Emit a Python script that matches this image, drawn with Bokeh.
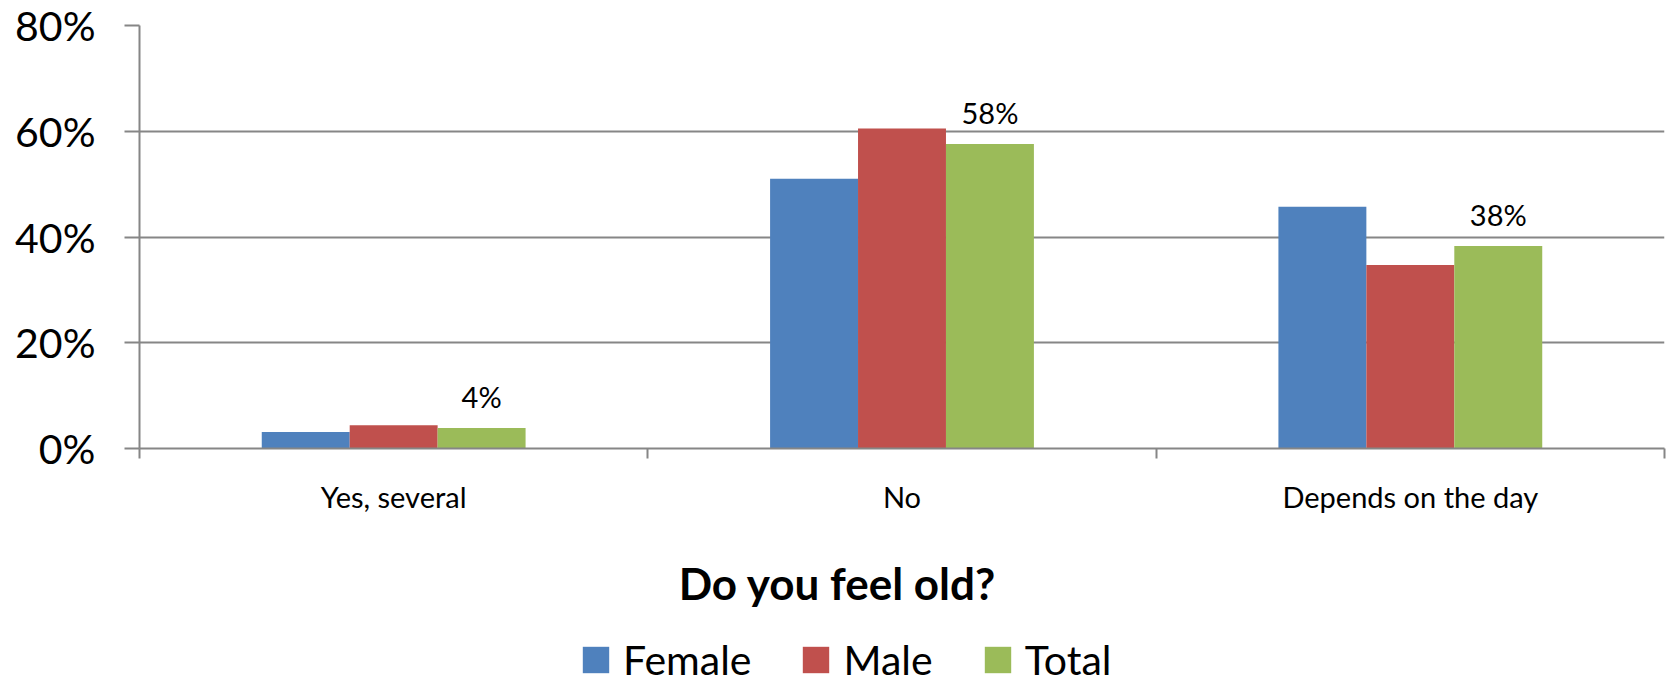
from bokeh.plotting import figure
from bokeh.layouts import column
from bokeh.models import (Range1d, FixedTicker, NumeralTickFormatter, ColumnDataSource,
                          Legend, LegendItem, Label)
from bokeh.core.properties import value
from bokeh.embed import file_html
from bokeh.resources import INLINE

# ---- data ----
categories = ["Yes, several", "No", "Depends on the day"]
female = [0.031, 0.510, 0.457]
male = [0.044, 0.605, 0.347]
total = [0.039, 0.576, 0.383]
series_names = ["Female", "Male", "Total"]
series_colors = ["#4F81BD", "#C0504D", "#9BBB59"]
y_ticks = [0.0, 0.2, 0.4, 0.6, 0.8]
title_text = "Do you feel old?"

FONT = "Lato"
GRID = "#868686"
W = 1670
H_MAIN = 530
H_FOOT = 153

idx = list(range(len(categories)))
bar_w = 0.173
offsets = [-bar_w, 0.0, bar_w]

p = figure(width=W, height=H_MAIN,
           x_range=Range1d(-0.5, len(categories) - 0.5),
           y_range=Range1d(y_ticks[0], y_ticks[-1]),
           output_backend="svg", toolbar_location=None,
           min_border_left=139, min_border_right=6,
           min_border_top=25, min_border_bottom=H_MAIN - 448)
p.outline_line_color = None
p.background_fill_color = "white"
p.border_fill_color = "white"

for name, vals, col, off in zip(series_names, [female, male, total], series_colors, offsets):
    src = ColumnDataSource(dict(x=[i + off for i in idx], top=vals))
    p.vbar(x="x", top="top", width=bar_w, source=src, fill_color=col, line_color=None)

# data labels on the Total series
lab_src = ColumnDataSource(dict(x=[i + offsets[2] for i in idx], y=total,
                                text=[f"{round(v * 100)}%" for v in total]))
p.text(x="x", y="y", text="text", source=lab_src, text_align="center",
       text_baseline="alphabetic", y_offset=-31, text_font=value(FONT),
       text_font_size="29px", text_color="black")

# x axis
xa = p.xaxis[0]
xa.ticker = FixedTicker(ticks=idx, minor_ticks=[i - 0.5 for i in range(len(categories) + 1)])
xa.major_label_overrides = {i: c for i, c in enumerate(categories)}
xa.axis_line_color = GRID
xa.axis_line_width = 2
xa.major_tick_line_color = None
xa.major_tick_out = 10
xa.major_tick_in = 0
xa.minor_tick_line_color = GRID
xa.minor_tick_line_width = 2
xa.minor_tick_out = 10
xa.minor_tick_in = 0
xa.major_label_text_font = FONT
xa.major_label_text_font_size = "29px"
xa.major_label_text_color = "black"
xa.major_label_standoff = 20

# y axis
ya = p.yaxis[0]
ya.ticker = FixedTicker(ticks=y_ticks)
ya.formatter = NumeralTickFormatter(format="0%")
ya.axis_line_color = GRID
ya.axis_line_width = 2
ya.major_tick_line_color = GRID
ya.major_tick_line_width = 2
ya.major_tick_out = 15
ya.major_tick_in = 0
ya.minor_tick_line_color = None
ya.major_label_text_font = FONT
ya.major_label_text_font_size = "41px"
ya.major_label_text_color = "black"
ya.major_label_standoff = 29

p.xgrid.visible = False
p.ygrid.grid_line_color = GRID
p.ygrid.grid_line_width = 2

# ---- footer: chart title and legend ----
foot = figure(width=W, height=H_FOOT, x_range=Range1d(0, 1), y_range=Range1d(0, 1),
              output_backend="svg", toolbar_location=None, min_border=0,
              x_axis_location=None, y_axis_location=None)
foot.outline_line_color = None
foot.grid.visible = False
foot.background_fill_color = "white"
foot.border_fill_color = "white"

foot.add_layout(Label(x=698, y=101, x_units="screen", y_units="screen", text=title_text,
                      text_align="center", text_baseline="alphabetic", text_font=FONT,
                      text_font_style="bold", text_font_size="44px", text_color="black"))

# legend swatch proxies (zero-height, outside the footer's range: nothing visible is drawn)
proxies = [foot.vbar(x=[-1], top=[0], width=0.1, fill_color=c, line_color=None)
           for c in series_colors]
legend = Legend(items=[LegendItem(label=n, renderers=[r]) for n, r in zip(series_names, proxies)],
                orientation="horizontal", location=(440, -1),
                glyph_width=33, glyph_height=33, label_standoff=11, spacing=48,
                padding=0, margin=0, border_line_color=None, background_fill_alpha=0,
                label_text_font=FONT, label_text_font_size="41px", label_text_color="black")
foot.add_layout(legend)

layout = column(p, foot, spacing=0)
open("out.html", "w").write(file_html(layout, INLINE))
